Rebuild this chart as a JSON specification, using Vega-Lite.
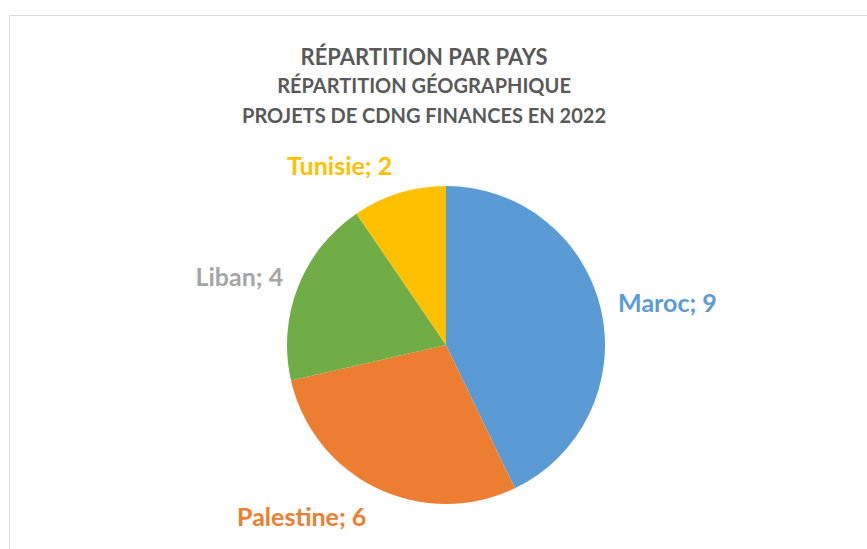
{
  "$schema": "https://vega.github.io/schema/vega-lite/v6.json",
  "autosize": "none",
  "width": 874,
  "height": 660,
  "padding": {"left": 9, "top": 15, "right": -16, "bottom": -126},
  "background": "white",
  "view": {"stroke": "#D9D9D9", "strokeWidth": 1, "fill": "white"},
  "config": {
    "font": "Lato"
  },
  "title": {
    "text": "RÉPARTITION PAR PAYS",
    "subtitle": ["RÉPARTITION GÉOGRAPHIQUE", "PROJETS DE CDNG FINANCES EN 2022"],
    "anchor": "middle",
    "orient": "top",
    "offset": -113,
    "dx": -22,
    "font": "Lato",
    "fontSize": 22,
    "fontWeight": "bold",
    "color": "#595959",
    "subtitleFont": "Lato",
    "subtitleFontSize": 20,
    "subtitleFontWeight": "bold",
    "subtitleColor": "#595959",
    "subtitleLineHeight": 30,
    "subtitlePadding": 7
  },
  "data": {
    "values": [
      {"pays": "Maroc", "n": 9, "ord": 1, "label": "Maroc; 9"},
      {"pays": "Palestine", "n": 6, "ord": 2, "label": "Palestine; 6"},
      {"pays": "Liban", "n": 4, "ord": 3, "label": "Liban; 4"},
      {"pays": "Tunisie", "n": 2, "ord": 4, "label": "Tunisie; 2"}
    ]
  },
  "encoding": {
    "theta": {"field": "n", "type": "quantitative", "stack": true},
    "order": {"field": "ord", "type": "quantitative"}
  },
  "layer": [
    {
      "mark": {"type": "arc", "outerRadius": 159},
      "encoding": {
        "color": {
          "field": "pays",
          "type": "nominal",
          "scale": {
            "domain": ["Maroc", "Palestine", "Liban", "Tunisie"],
            "range": ["#5B9BD5", "#ED7D31", "#70AD47", "#FFC000"]
          },
          "legend": null
        }
      }
    },
    {
      "mark": {"type": "text", "radius": 222, "dx": 5, "dy": 8, "fontSize": 25, "fontWeight": "bold", "font": "Lato", "fill": "#5B9BD5"},
      "encoding": {"text": {"condition": {"test": "datum.pays === 'Maroc'", "field": "label"}, "value": ""}}
    },
    {
      "mark": {"type": "text", "radius": 222, "dx": -48, "dy": -27, "fontSize": 25, "fontWeight": "bold", "font": "Lato", "fill": "#ED7D31"},
      "encoding": {"text": {"condition": {"test": "datum.pays === 'Palestine'", "field": "label"}, "value": ""}}
    },
    {
      "mark": {"type": "text", "radius": 222, "dx": 0, "dy": 14, "fontSize": 25, "fontWeight": "bold", "font": "Lato", "fill": "#A5A5A5"},
      "encoding": {"text": {"condition": {"test": "datum.pays === 'Liban'", "field": "label"}, "value": ""}}
    },
    {
      "mark": {"type": "text", "radius": 222, "dx": -41, "dy": 34, "fontSize": 25, "fontWeight": "bold", "font": "Lato", "fill": "#FFC000"},
      "encoding": {"text": {"condition": {"test": "datum.pays === 'Tunisie'", "field": "label"}, "value": ""}}
    }
  ]
}
